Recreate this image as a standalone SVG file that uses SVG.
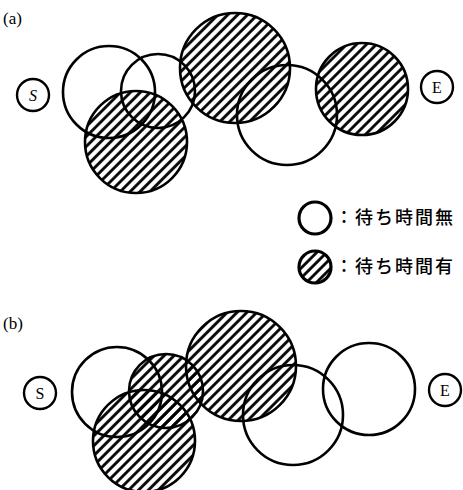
<svg xmlns="http://www.w3.org/2000/svg" width="463" height="490" viewBox="0 0 463 490">
<defs>
<pattern id="hatch" patternUnits="userSpaceOnUse" width="7" height="7" patternTransform="rotate(-45)">
<line x1="0" y1="3.5" x2="7" y2="3.5" stroke="#000" stroke-width="2.8"/>
</pattern>
</defs>
<style>
.c{fill:none;stroke:#000;stroke-width:2.6}
.h{fill:url(#hatch);stroke:#000;stroke-width:2.6}
.n{fill:#fff;stroke:#000;stroke-width:2.4}
.lg-c{stroke-width:3.2}
.lbl{font-family:"Liberation Serif",serif;font-size:16px;fill:#000}
.t{font-family:"Liberation Serif",serif;font-size:17px;fill:#000}
.lg{font-family:"Noto Sans CJK JP","Noto Sans CJK SC",sans-serif;font-size:18px;font-weight:500;letter-spacing:2px;fill:#000}
</style>
<rect width="463" height="490" fill="#fff"/>
<text class="t" x="3" y="24">(a)</text>
<g id="a-S"><circle class="n" cx="33" cy="95" r="16"/><text class="lbl" x="33" y="101" text-anchor="middle" font-style="italic">S</text></g>
<g id="a-E"><circle class="n" cx="437" cy="87" r="16"/><text class="lbl" x="437" y="93" text-anchor="middle">E</text></g>
<g id="a-c1"><circle class="c" cx="109" cy="92" r="46"/></g>
<g id="a-c2"><circle class="c" cx="158" cy="91" r="37"/></g>
<g id="a-c5"><circle class="c" cx="287" cy="115" r="50"/></g>
<g id="a-c3"><circle class="h" cx="136" cy="142" r="51"/></g>
<g id="a-c4"><circle class="h" cx="235" cy="68" r="55"/></g>
<g id="a-c6"><circle class="h" cx="362" cy="89" r="46"/></g>
<g id="legend-open"><circle class="c lg-c" cx="315" cy="218" r="16"/><text class="lg" x="335" y="224">：待ち時間無</text></g>
<g id="legend-hatch"><circle class="h lg-c" cx="315" cy="267" r="16"/><text class="lg" x="335" y="273">：待ち時間有</text></g>
<text class="t" x="3" y="329">(b)</text>
<g id="b-S"><circle class="n" cx="40" cy="393" r="16"/><text class="lbl" x="40" y="399" text-anchor="middle">S</text></g>
<g id="b-E"><circle class="n" cx="445" cy="390" r="16"/><text class="lbl" x="445" y="396" text-anchor="middle">E</text></g>
<g id="b-c1"><circle class="c" cx="117" cy="392" r="45"/></g>
<g id="b-c5"><circle class="c" cx="293" cy="415" r="50"/></g>
<g id="b-c6"><circle class="c" cx="369" cy="389" r="46"/></g>
<g id="b-c3"><circle class="h" cx="144" cy="441" r="51"/></g>
<g id="b-c2"><circle class="h" cx="166" cy="391" r="37"/></g>
<g id="b-c4"><circle class="h" cx="241" cy="366" r="55"/></g>
<g id="connectors"></g>
</svg>
